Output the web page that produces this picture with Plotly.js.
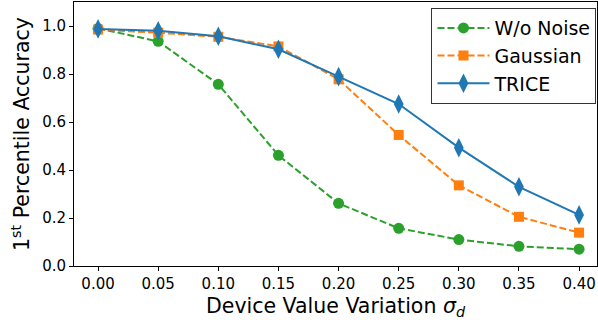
<!DOCTYPE html>
<html><head><meta charset="utf-8">
<script src="https://cdn.plot.ly/plotly-3.0.1.min.js"></script>
<style>html,body{margin:0;padding:0;background:#fff}#c{width:598px;height:324px}</style>
</head><body><div id="c"></div>
<script>
const sigma = [0.00, 0.05, 0.10, 0.15, 0.20, 0.25, 0.30, 0.35, 0.40];
const woNoise = [0.990, 0.936, 0.757, 0.461, 0.261, 0.157, 0.110, 0.082, 0.070];
const gaussian = [0.985, 0.972, 0.955, 0.915, 0.778, 0.546, 0.336, 0.205, 0.139];
const trice = [0.988, 0.980, 0.957, 0.903, 0.789, 0.675, 0.493, 0.330, 0.213];
const xTicks = [0.00, 0.05, 0.10, 0.15, 0.20, 0.25, 0.30, 0.35, 0.40];
const xTickText = ["0.00","0.05","0.10","0.15","0.20","0.25","0.30","0.35","0.40"];
const yTicks = [0.0, 0.2, 0.4, 0.6, 0.8, 1.0];
const yTickText = ["0.0","0.2","0.4","0.6","0.8","1.0"];

const font = "DejaVu Sans";
const traces = [
  {x: sigma, y: woNoise, name: "W/o Noise", mode: "lines+markers",
   line: {color: "#2ca02c", width: 2, dash: "7px,3px"},
   marker: {symbol: "circle", size: 11, color: "#2ca02c"}},
  {x: sigma, y: gaussian, name: "Gaussian", mode: "lines+markers",
   line: {color: "#ff7f0e", width: 2, dash: "7px,3px"},
   marker: {symbol: "square", size: 10, color: "#ff7f0e"}},
  {x: sigma, y: trice, name: "TRICE", mode: "lines+markers",
   line: {color: "#1f77b4", width: 2},
   marker: {symbol: "diamond-tall", size: 14, color: "#1f77b4"}}
];
const layout = {
  width: 598, height: 324,
  margin: {l: 74, r: 1, t: 2, b: 58},
  paper_bgcolor: "#fff", plot_bgcolor: "#fff",
  font: {family: font, color: "#000", size: 15},
  showlegend: true,
  legend: {x: 0.999, xanchor: "right", y: 0.977, yanchor: "top",
    bordercolor: "#333", borderwidth: 1, bgcolor: "rgba(255,255,255,0.8)",
    font: {family: font, size: 19}, traceorder: "normal", tracegroupgap: 0,
    itemwidth: 52},
  xaxis: {range: [-0.02, 0.4149], tickvals: xTicks, ticktext: xTickText,
    ticks: "outside", ticklen: 4, tickwidth: 1, tickcolor: "#000",
    showline: true, linecolor: "#000", linewidth: 1, mirror: true,
    showgrid: false, zeroline: false,
    tickfont: {family: font, size: 15},
    title: {text: "Device Value Variation <i>σ</i><sub><i>d</i></sub>", font: {family: font, size: 20.5}, standoff: 6}},
  yaxis: {range: [0, 1.1], tickvals: yTicks, ticktext: yTickText,
    ticks: "outside", ticklen: 4, tickwidth: 1, tickcolor: "#000",
    showline: true, linecolor: "#000", linewidth: 1, mirror: true,
    showgrid: false, zeroline: false,
    tickfont: {family: font, size: 15},
    title: {text: "1<sup>st</sup> Percentile Accuracy", font: {family: font, size: 20.5}, standoff: 6}}
};
Plotly.newPlot("c", traces, layout, {displayModeBar: false, staticPlot: true});
</script></body></html>
